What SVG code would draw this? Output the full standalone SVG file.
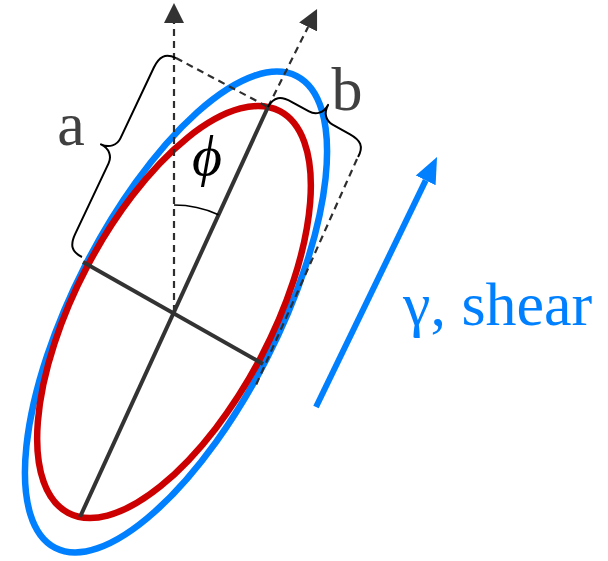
<svg xmlns="http://www.w3.org/2000/svg" width="608" height="561" viewBox="0 0 608 561">
  <defs>
    <style>
      .dash { fill: none; stroke: #2e2e2e; stroke-width: 2.2; stroke-dasharray: 7 5; }
      .axis { fill: none; stroke: #333333; stroke-width: 4; stroke-linecap: butt; }
      .brace { fill: none; stroke: #000000; stroke-width: 2; stroke-linejoin: round; }
      .lbl { font-family: "Liberation Serif", "Times New Roman", serif; font-size: 62px; fill: #404040; }
    </style>
    <marker id="headDark" markerUnits="userSpaceOnUse" viewBox="0 -10 20 20" markerWidth="20" markerHeight="20" refX="0" refY="0" orient="auto">
      <path d="M0,-10 L20,0 L0,10 Z" fill="#333333"/>
    </marker>
    <marker id="headBlue" markerUnits="userSpaceOnUse" viewBox="0 -12 26 24" markerWidth="26" markerHeight="24" refX="0" refY="0" orient="auto">
      <path d="M0,-11 L26,0 L0,11 Z" fill="#0080FF"/>
    </marker>
  </defs>

  <g id="ellipse-sheared">
    <ellipse cx="176" cy="312" rx="102" ry="265" transform="rotate(27.1 176 312)" fill="none" stroke="#0080FF" stroke-width="6.5"/>
  </g>
  <g id="ellipse-original">
    <ellipse cx="174" cy="312" rx="98" ry="227" transform="rotate(27.8 174 312)" fill="none" stroke="#CC0000" stroke-width="6.5"/>
  </g>

  <g id="connectors">
    <line class="dash" x1="174" y1="312" x2="174" y2="23" marker-end="url(#headDark)"/>
    <line class="dash" x1="268" y1="107" x2="308.1" y2="26.9" marker-end="url(#headDark)"/>
    <line class="dash" x1="176" y1="58" x2="268" y2="107"/>
    <line class="dash" x1="357" y1="159" x2="256" y2="385"/>
    <line x1="316" y1="407" x2="425.7" y2="180.4" stroke="#0080FF" stroke-width="6" marker-end="url(#headBlue)"/>
  </g>

  <g id="axes">
    <line class="axis" x1="268" y1="107" x2="80" y2="517"/>
    <line class="axis" x1="83" y1="262" x2="263" y2="364"/>
  </g>

  <g id="angle-phi">
    <path d="M174,205 A107,107 0 0 1 218.5,214.7" fill="none" stroke="#000000" stroke-width="1.5"/>
    <text x="207" y="175" text-anchor="middle" font-family="'Liberation Serif', 'DejaVu Serif', serif" font-style="italic" font-size="58" fill="#000000">ϕ</text>
  </g>

  <g id="brace-a">
    <path class="brace" transform="translate(82 257) rotate(-64.7)" d="M0,0 C0,-12 6,-16 18,-16 L96,-16 C104,-16 110,-22 110,-31 C110,-22 116,-16 124,-16 L202,-16 C214,-16 220,-12 220,0"/>
    <text class="lbl" x="71" y="145" text-anchor="middle">a</text>
  </g>

  <g id="brace-b">
    <path class="brace" transform="translate(268 107) rotate(29.05)" d="M0,0 C0,-12 6,-16 18,-16 L38,-16 C46,-16 51.5,-22 51.5,-31 C51.5,-22 57,-16 65,-16 L85,-16 C97,-16 103,-12 103,0"/>
    <text class="lbl" x="347" y="110" text-anchor="middle">b</text>
  </g>

  <g id="shear-label">
    <text x="403" y="325" font-family="'Liberation Serif', 'Times New Roman', serif" font-size="62" fill="#0080FF">γ, shear</text>
  </g>
</svg>
